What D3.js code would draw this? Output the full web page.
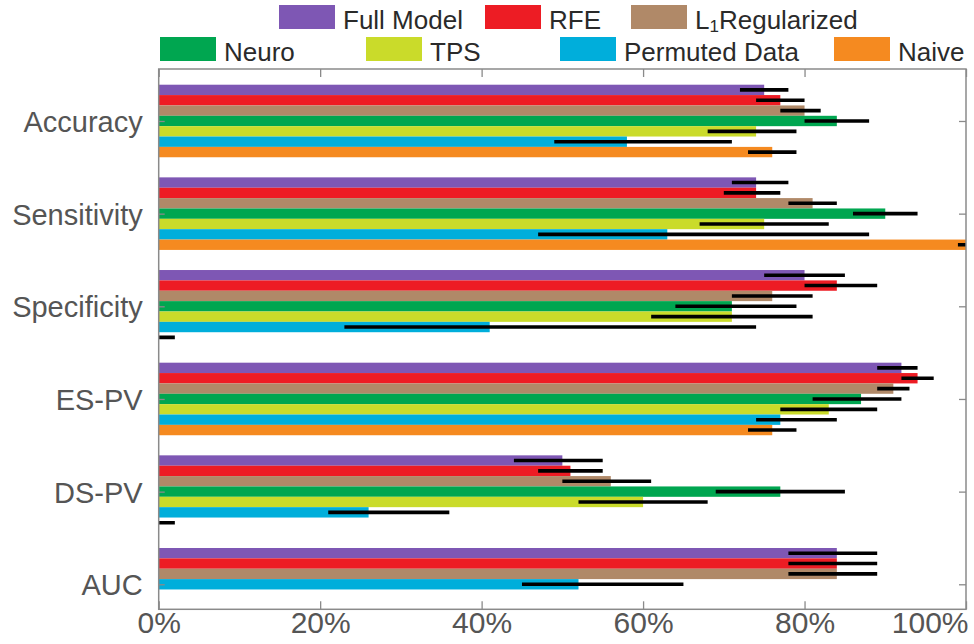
<!DOCTYPE html>
<html>
<head>
<meta charset="utf-8">
<script src="https://cdn.jsdelivr.net/npm/d3@7"></script>
<style>
  html, body { margin: 0; padding: 0; background: #fff; }
  svg { display: block; font-family: "Liberation Sans", Arial, sans-serif; }
</style>
</head>
<body>
<svg id="chart" width="974" height="644"></svg>
<script>
// ---------------- DATA ----------------
const categories = ["Accuracy", "Sensitivity", "Specificity", "ES-PV", "DS-PV", "AUC"];
const seriesNames = ["Full Model", "RFE", "L1Regularized", "Neuro", "TPS", "Permuted Data", "Naive"];
const seriesColors = ["#7E57B4", "#ED1C24", "#B08968", "#00A650", "#CADB2A", "#00AEDB", "#F58A20"];

// values in percent (null = not shown)
const fullModel    = [75, 74, 80, 92, 50, 84];
const fullModelLo  = [72, 71, 75, 89, 44, 78];
const fullModelHi  = [78, 78, 85, 94, 55, 89];

const rfe          = [77, 74, 84, 94, 51, 84];
const rfeLo        = [74, 70, 80, 92, 47, 78];
const rfeHi        = [80, 77, 89, 96, 55, 89];

const l1Reg        = [80, 81, 76, 91, 56, 84];
const l1RegLo      = [77, 78, 71, 89, 50, 78];
const l1RegHi      = [82, 84, 81, 93, 61, 89];

const neuro        = [84, 90, 71, 87, 77, null];
const neuroLo      = [80, 86, 64, 81, 69, null];
const neuroHi      = [88, 94, 79, 92, 85, null];

const tps          = [74, 75, 71, 83, 60, null];
const tpsLo        = [68, 67, 61, 77, 52, null];
const tpsHi        = [79, 83, 81, 89, 68, null];

const permuted     = [58, 63, 41, 77, 26, 52];
const permutedLo   = [49, 47, 23, 74, 21, 45];
const permutedHi   = [71, 88, 74, 84, 36, 65];

const naive        = [76, 100, 0, 76, 0, null];
const naiveLo      = [73, 99, 0, 73, 0, null];
const naiveHi      = [79, 101, 2, 79, 2, null];

const xTickValues = [0, 20, 40, 60, 80, 100];
const xTickLabels = ["0%", "20%", "40%", "60%", "80%", "100%"];

// ---------------- BUILD TABLE ----------------
const seriesVals = [fullModel, rfe, l1Reg, neuro, tps, permuted, naive];
const seriesLo   = [fullModelLo, rfeLo, l1RegLo, neuroLo, tpsLo, permutedLo, naiveLo];
const seriesHi   = [fullModelHi, rfeHi, l1RegHi, neuroHi, tpsHi, permutedHi, naiveHi];

const rows = [];
categories.forEach((cat, ci) => {
  let slot = 0;
  seriesNames.forEach((s, si) => {
    const v = seriesVals[si][ci];
    if (v === null || v === undefined) return;
    rows.push({ cat, ci, si, slot: slot++, v, lo: seriesLo[si][ci], hi: seriesHi[si][ci] });
  });
});

// ---------------- LAYOUT ----------------
const svg = d3.select("#chart");
const plot = { left: 158.7, right: 966, top: 69, bottom: 609.3 };
const nSlots = seriesNames.length;

const x = d3.scaleLinear().domain([0, 100]).range([plot.left, plot.right]);
const y = d3.scaleLinear().domain([0.439, 6.27]).range([plot.top, plot.bottom]);
const groupWidth = 0.783;
const slotH = groupWidth / nSlots;
const slotCenter = d => (d.ci + 1) - groupWidth / 2 + slotH * (d.slot + 0.5);

svg.append("defs").append("clipPath").attr("id", "clip")
  .append("rect")
  .attr("x", plot.left).attr("y", plot.top)
  .attr("width", plot.right - plot.left).attr("height", plot.bottom - plot.top);

const g = svg.append("g").attr("clip-path", "url(#clip)");

// bars
g.selectAll("rect.bar").data(rows).enter().append("rect")
  .attr("class", "bar")
  .attr("x", x(0))
  .attr("y", d => y(slotCenter(d) - slotH / 2))
  .attr("width", d => x(d.v) - x(0))
  .attr("height", d => y(slotH) - y(0))
  .attr("fill", d => seriesColors[d.si]);

// error bars
g.selectAll("line.err").data(rows).enter().append("line")
  .attr("class", "err")
  .attr("x1", d => x(d.lo)).attr("x2", d => x(d.hi))
  .attr("y1", d => y(slotCenter(d))).attr("y2", d => y(slotCenter(d)))
  .attr("stroke", "#000").attr("stroke-width", 3.6);

// axes box
const axisColor = "#8a8a8a";
svg.append("rect")
  .attr("x", plot.left).attr("y", plot.top)
  .attr("width", plot.right - plot.left).attr("height", plot.bottom - plot.top)
  .attr("fill", "none").attr("stroke", axisColor).attr("stroke-width", 1.5);

// x axes (bottom with labels, top ticks only), inner ticks
const xBottom = d3.axisBottom(x).tickValues(xTickValues)
  .tickFormat((d, i) => xTickLabels[i]).tickSizeInner(-8).tickSizeOuter(0);
const gxb = svg.append("g").attr("transform", `translate(0,${plot.bottom})`).call(xBottom);
gxb.select(".domain").remove();
gxb.selectAll(".tick line").attr("stroke", axisColor).attr("stroke-width", 1.3);
gxb.selectAll(".tick text")
  .attr("fill", "#555").attr("font-size", 30)
  .attr("font-family", "'Liberation Sans', Arial, sans-serif")
  .attr("text-anchor", (d, i) => i === xTickValues.length - 1 ? "end" : "middle")
  .attr("dx", (d, i) => i === xTickValues.length - 1 ? 2 : 0)
  .attr("y", 24).attr("dy", 0);

const xTop = d3.axisTop(x).tickValues(xTickValues).tickFormat("").tickSizeInner(-8).tickSizeOuter(0);
const gxt = svg.append("g").attr("transform", `translate(0,${plot.top})`).call(xTop);
gxt.select(".domain").remove();
gxt.selectAll(".tick line").attr("stroke", axisColor).attr("stroke-width", 1.3);

// y axes
const yLeft = d3.axisLeft(y).tickValues(categories.map((c, i) => i + 1))
  .tickFormat((d) => categories[d - 1]).tickSizeInner(-6).tickSizeOuter(0).tickPadding(16);
const gyl = svg.append("g").attr("transform", `translate(${plot.left},0)`).call(yLeft);
gyl.select(".domain").remove();
gyl.selectAll(".tick line").attr("stroke", axisColor).attr("stroke-width", 1.3);
gyl.selectAll(".tick text")
  .attr("fill", "#555").attr("font-size", 29)
  .attr("font-family", "'Liberation Sans', Arial, sans-serif")
  .attr("dy", "0.36em");

const yRight = d3.axisRight(y).tickValues(categories.map((c, i) => i + 1))
  .tickFormat("").tickSizeInner(-7).tickSizeOuter(0);
const gyr = svg.append("g").attr("transform", `translate(${plot.right},0)`).call(yRight);
gyr.select(".domain").remove();
gyr.selectAll(".tick line").attr("stroke", axisColor).attr("stroke-width", 1.3);

// ---------------- LEGEND ----------------
const legendLayout = [
  { sx: 279, row: 0 }, { sx: 485, row: 0 }, { sx: 631, row: 0 },
  { sx: 160, row: 1 }, { sx: 366, row: 1 }, { sx: 560, row: 1 }, { sx: 834, row: 1 }
];
const rowSwatchY = [5, 37];
const swW = 56, swH = 24;
const leg = svg.append("g");
seriesNames.forEach((name, i) => {
  const L = legendLayout[i];
  const sy = rowSwatchY[L.row];
  leg.append("rect")
    .attr("x", L.sx).attr("y", sy).attr("width", swW).attr("height", swH)
    .attr("fill", seriesColors[i]);
  const t = leg.append("text")
    .attr("x", L.sx + swW + 8).attr("y", sy + swH - 0.5)
    .attr("font-size", 26).attr("fill", "#2a2a2a");
  if (name === "L1Regularized") {
    t.append("tspan").text("L");
    t.append("tspan").text("1").attr("font-size", 17).attr("dy", 3);
    t.append("tspan").text("Regularized").attr("dy", -3);
  } else {
    t.text(name);
  }
});
</script>
</body>
</html>
